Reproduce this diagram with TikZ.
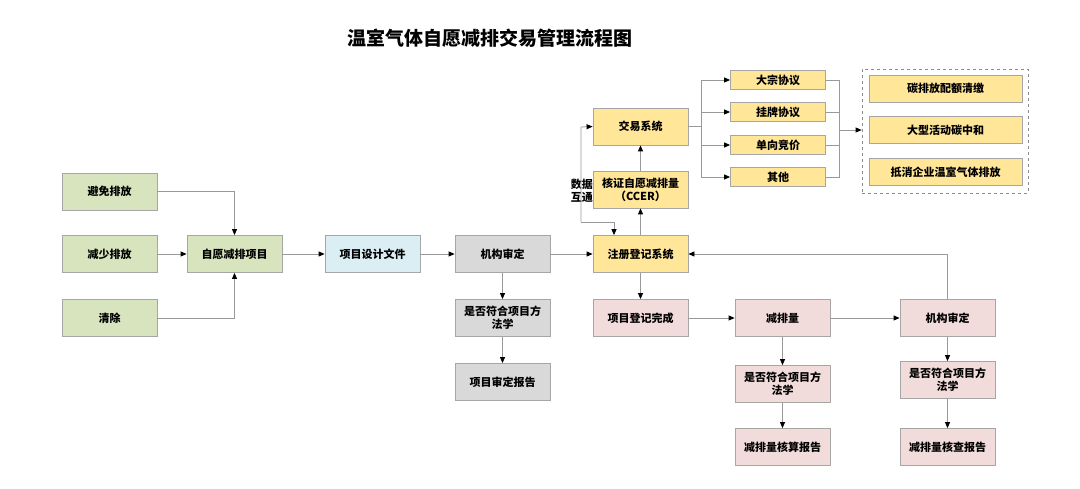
\documentclass[tikz,border=0pt]{standalone}
\usepackage{fontspec}
\setmainfont{Noto Sans CJK SC}
\usetikzlibrary{arrows.meta}
\begin{document}
\begin{tikzpicture}[x=1pt,y=-1pt,
 box/.style={draw=black!35,line width=0.8pt,minimum width=95pt,minimum height=37pt,inner sep=1pt,align=center,font=\fontsize{11}{13}\selectfont\bfseries},
 sm/.style={box,minimum height=19pt},
 rb/.style={box,minimum width=153pt,minimum height=27pt},
 gr/.style={box,fill=green!35!olive!20!white},
 ln/.style={draw=black!40,line width=0.8pt},
 ar/.style={ln,-{Triangle[length=6pt,width=5pt,fill=black,color=black]}}]
\useasboundingbox (0,0) rectangle (1080,489);
\definecolor{cg}{HTML}{D7E4BD}\definecolor{cb}{HTML}{DBEEF4}\definecolor{cgy}{HTML}{D9D9D9}
\definecolor{cy}{HTML}{FFE699}\definecolor{cp}{HTML}{F2DCDB}
\node[font=\fontsize{19}{22}\selectfont\bfseries] (t) at (490,38) {温室气体自愿减排交易管理流程图};
\node[box,fill=cg] (a1) at (109.5,191.5) {避免排放};
\node[box,fill=cg] (a2) at (109.5,254) {减少排放};
\node[box,fill=cg] (a3) at (109.5,318) {清除};
\node[box,fill=cg] (p) at (234.5,254) {自愿减排项目};
\node[box,fill=cb] (d) at (372.5,254) {项目设计文件};
\node[box,fill=cgy] (j1) at (502.5,254) {机构审定};
\node[box,fill=cgy] (f1) at (502.5,318) {是否符合项目方\\法学};
\node[box,fill=cgy] (r1) at (502.5,382) {项目审定报告};
\node[box,fill=cy] (reg) at (640.5,254) {注册登记系统};
\node[box,fill=cy] (cc) at (640.5,189.5) {核证自愿减排量\\（CCER）};
\node[box,fill=cy] (tr) at (640.5,126.5) {交易系统};
\node[sm,fill=cy] (s1) at (778,80) {大宗协议};
\node[sm,fill=cy] (s2) at (778,112) {挂牌协议};
\node[sm,fill=cy] (s3) at (778,145) {单向竞价};
\node[sm,fill=cy] (s4) at (778,177) {其他};
\node[draw=black!45,dashed,line width=0.7pt,minimum width=166pt,minimum height=124pt] (grp) at (945,131) {};
\node[rb,fill=cy] (u1) at (945.5,88.5) {碳排放配额清缴};
\node[rb,fill=cy] (u2) at (945.5,130) {大型活动碳中和};
\node[rb,fill=cy] (u3) at (945.5,172) {抵消企业温室气体排放};
\node[box,fill=cp] (k) at (640.5,318) {项目登记完成};
\node[box,fill=cp] (m) at (782.5,318) {减排量};
\node[box,fill=cp] (j2) at (947.5,318) {机构审定};
\node[box,fill=cp] (f2) at (782.5,384) {是否符合项目方\\法学};
\node[box,fill=cp] (f3) at (947.5,380) {是否符合项目方\\法学};
\node[box,fill=cp] (r2) at (782.5,447) {减排量核算报告};
\node[box,fill=cp] (r3) at (947.5,447) {减排量核查报告};
\node[font=\fontsize{11}{13}\selectfont\bfseries,align=center,inner sep=0pt,anchor=east] (lab) at (593,191) {数据\\互通};
\coordinate (c1) at (581,127); \coordinate (c2) at (581,222); \coordinate (c3) at (614,222);
\coordinate (b1) at (701,126.5); \coordinate (b2) at (839,130);
\draw[ar] (a1.east) -| (p.north);
\draw[ar] (a3.east) -| (p.south);
\draw[ar] (a2) -- (p);
\draw[ar] (p) -- (d);
\draw[ar] (d) -- (j1);
\draw[ar] (j1) -- (reg);
\draw[ar] (j1) -- (f1);
\draw[ar] (f1) -- (r1);
\draw[ar] (reg) -- (cc);
\draw[ar] (cc) -- (tr);
\draw[ar] (c2) -- (c1) -- (tr.west);
\draw[ar] (c2) -- (c3) -- (c3 |- reg.north);
\draw[ln] (tr.east) -- (b1);
\foreach \s in {s1,s2,s3,s4}{\draw[ar] (b1) |- (\s.west); \draw[ln] (\s.east) -| (b2);}
\draw[ar] (b2) -- (grp.west |- b2);
\draw[ar] (reg) -- (k);
\draw[ar] (k) -- (m);
\draw[ar] (m) -- (j2);
\draw[ar] (m) -- (f2);
\draw[ar] (f2) -- (r2);
\draw[ar] (j2) -- (f3);
\draw[ar] (f3) -- (r3);
\draw[ar] (j2.north) |- (reg.east);
\end{tikzpicture}
\end{document}
